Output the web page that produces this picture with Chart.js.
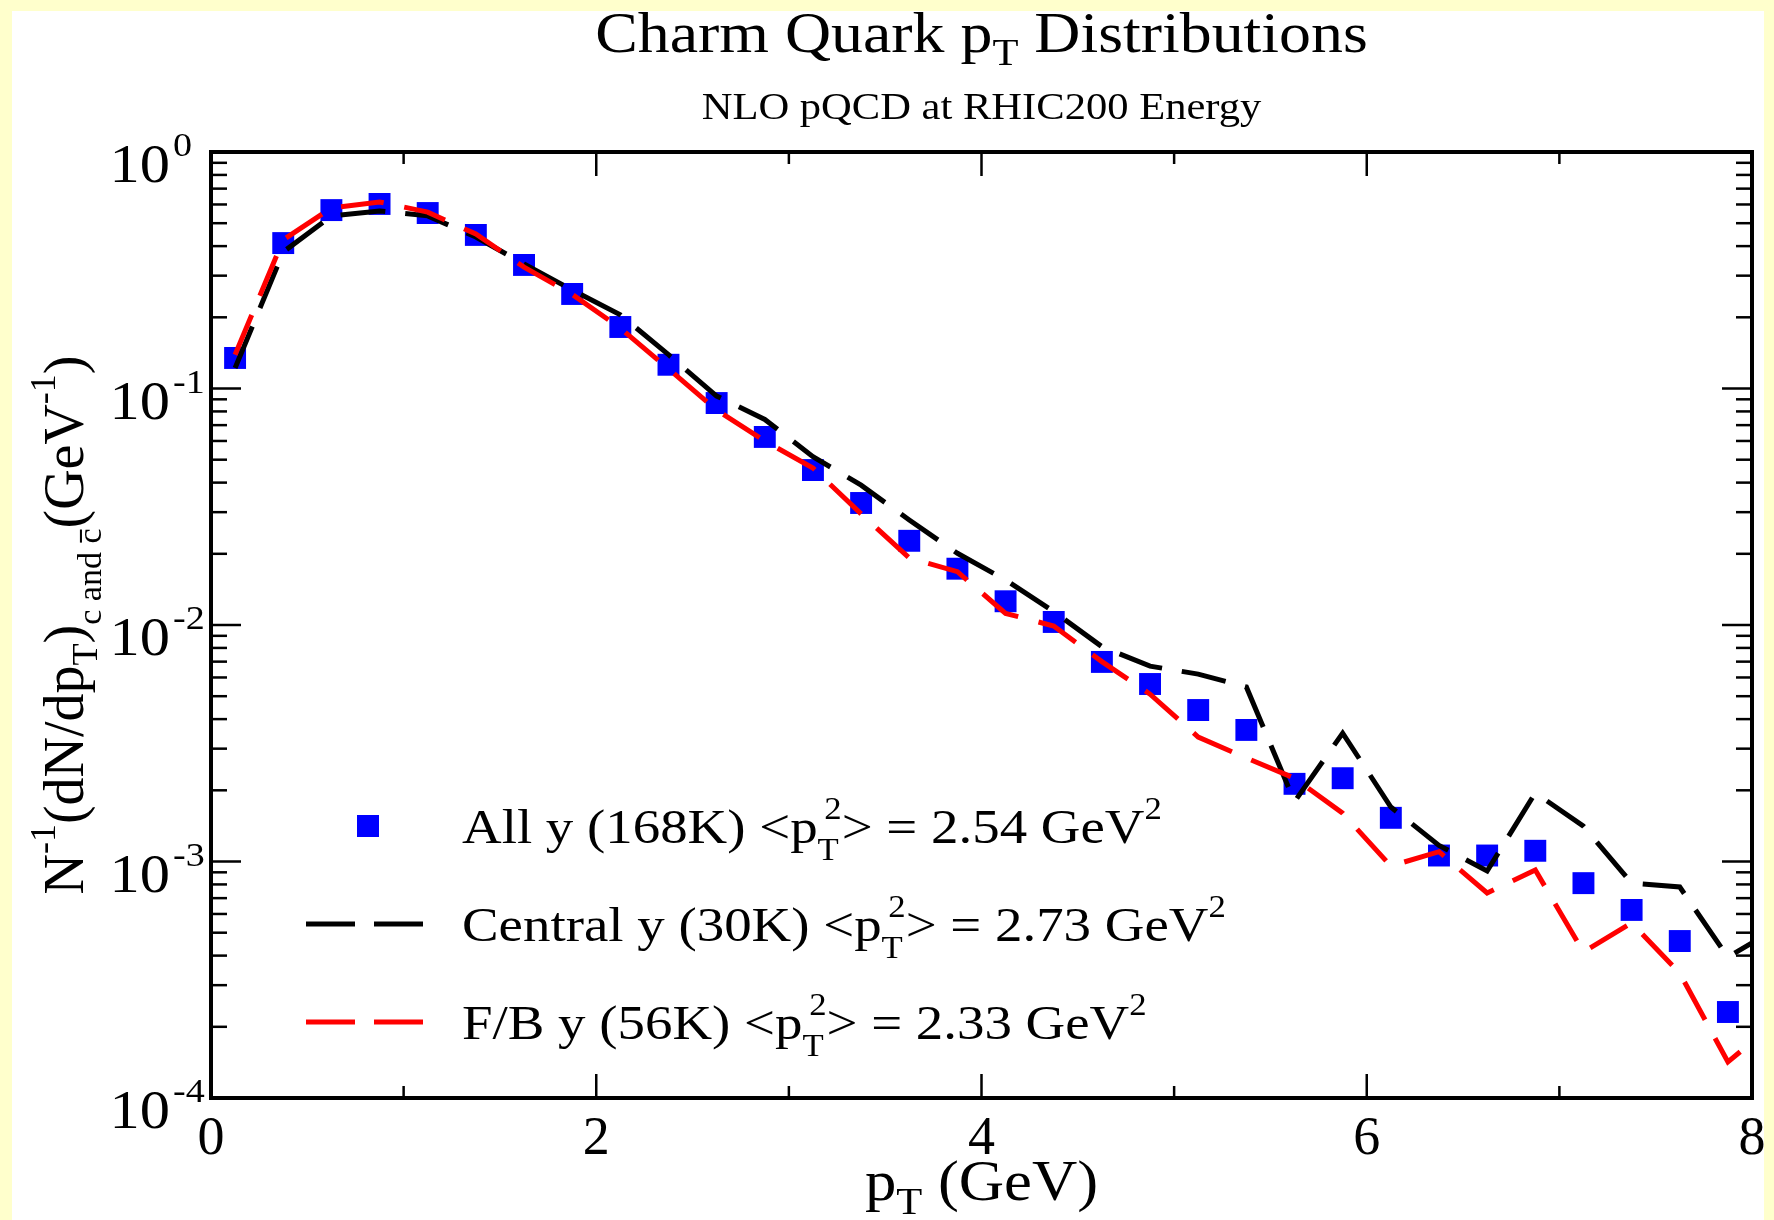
<!DOCTYPE html>
<html>
<head>
<meta charset="utf-8">
<title>Charm Quark pT Distributions</title>
<script src="https://cdn.jsdelivr.net/npm/chart.js@4.4.1/dist/chart.umd.min.js"></script>
<style>
  html, body { margin: 0; padding: 0; background: #FFFFCC; }
  #wrap { width: 1774px; height: 1220px; }
</style>
</head>
<body>
<div id="wrap"><canvas id="chart" width="1774" height="1220"></canvas></div>
<script>
// ============================================
// Charm quark pT spectra (NLO pQCD, RHIC 200)
// ============================================

// bin centres in GeV (last one sits just past the frame, lines run out to it)
const ptBins = [0.125, 0.375, 0.625, 0.875, 1.125, 1.375, 1.625, 1.875,
                2.125, 2.375, 2.625, 2.875, 3.125, 3.375, 3.625, 3.875,
                4.125, 4.375, 4.625, 4.875, 5.125, 5.375, 5.625, 5.875,
                6.125, 6.375, 6.625, 6.875, 7.125, 7.375, 7.625, 7.875, 8.125];

// All y (168K) - blue squares
const allY = [0.1346, 0.412, 0.568, 0.603, 0.552, 0.446, 0.333, 0.251,
              0.182, 0.126, 0.0868, 0.0624, 0.0452, 0.0328, 0.0227, 0.0173,
              0.0126, 0.0103, 0.00698, 0.00563, 0.00437, 0.00360, 0.00213, 0.00225,
              0.00153, 0.00106, 0.00106, 0.00111, 0.00081, 0.000624, 0.000461, 0.000231];

// Central y (30K) - black dashes
const centralY = [0.122, 0.378, 0.536, 0.563, 0.537, 0.437, 0.336, 0.261,
                  0.205, 0.139, 0.0929, 0.074, 0.0515, 0.039, 0.0278, 0.0201,
                  0.0155, 0.0114, 0.0081, 0.0067, 0.0062, 0.00547, 0.00179, 0.00349,
                  0.0017, 0.00117, 0.000912, 0.00195, 0.00141, 0.00081, 0.00078, 0.000394, 0.00052];

// F/B y (56K) - red dashes
const fbY = [0.139, 0.425, 0.58, 0.615, 0.557, 0.45, 0.326, 0.25,
             0.180, 0.121, 0.081, 0.060, 0.0461, 0.0295, 0.0192, 0.0168,
             0.0112, 0.0099, 0.0070, 0.0051, 0.00336, 0.00274, 0.00225, 0.0016,
             0.000957, 0.0011, 0.000736, 0.00092, 0.000414, 0.00055, 0.000337, 0.000142, 0.00021];

const xTickVals = [0, 1, 2, 3, 4, 5, 6, 7, 8];
const xLabelVals = [0, 2, 4, 6, 8];
const yDecadeVals = [1e-4, 1e-3, 1e-2, 1e-1, 1];
const yExpLabels = ['-4', '-3', '-2', '-1', '0'];
const yMinorMant = [2, 3, 4, 5, 6, 7, 8, 9];

const legendRows = [
  { name: 'All y (168K)', mean: '2.54' },
  { name: 'Central y (30K)', mean: '2.73' },
  { name: 'F/B y (56K)', mean: '2.33' }
];

const SERIF = '"Liberation Serif", "Times New Roman", serif';
const SX = 1.12;   // the figure is a little stretched sideways

const toXY = (ys) => ys.map((v, i) => ({ x: ptBins[i], y: v }));

// draws a sequence of text pieces (sub/superscripts) at one baseline
function runsWidth(ctx, runs) {
  let w = 0, start = 0, prev = 0;
  runs.forEach(r => {
    ctx.font = `${r.size}px ${SERIF}`;
    const m = ctx.measureText(r.text).width + (r.dx || 0);
    if (r.stack) { w = start + Math.max(prev, m); prev = Math.max(prev, m); }
    else { start = w; w += m; prev = m; }
  });
  return w;
}

function drawRuns(ctx, runs, x, y, align, sx, rot) {
  ctx.save();
  ctx.translate(x, y);
  if (rot) ctx.rotate(rot);
  ctx.scale(sx, 1);
  ctx.fillStyle = '#000';
  ctx.textBaseline = 'alphabetic';
  ctx.textAlign = 'left';
  const total = runsWidth(ctx, runs);
  let cx = align === 'center' ? -total / 2 : align === 'right' ? -total : 0;
  let start = cx, prev = 0;
  runs.forEach(r => {
    ctx.font = `${r.size}px ${SERIF}`;
    const m = ctx.measureText(r.text).width;
    const px = r.stack ? start + (r.dx || 0) : cx;
    ctx.fillText(r.text, px, r.dy || 0);
    if (r.bar) {
      // overline on the last glyph (anti-charm)
      const lw = ctx.measureText(r.bar).width;
      ctx.fillRect(px + m - lw + 1, (r.dy || 0) - r.size * 0.62, lw - 2, r.size * 0.06);
    }
    if (r.stack) { cx = start + Math.max(prev, m + (r.dx || 0)); prev = Math.max(prev, m); }
    else { start = cx; cx += m; prev = m; }
  });
  ctx.restore();
}

function line(ctx, x1, y1, x2, y2) {
  ctx.beginPath(); ctx.moveTo(x1, y1); ctx.lineTo(x2, y2); ctx.stroke();
}

const framePlugin = {
  id: 'framePlugin',
  beforeDraw(chart) {
    const ctx = chart.ctx;
    ctx.save();
    ctx.fillStyle = '#FFFFCC';
    ctx.fillRect(0, 0, chart.width, chart.height);
    ctx.fillStyle = '#FFFFFF';
    ctx.fillRect(12, 11, chart.width - 22, chart.height - 11);
    ctx.restore();
  },
  afterDraw(chart) {
    const { ctx, chartArea: a, scales: { x, y } } = chart;
    ctx.save();
    ctx.strokeStyle = '#000';
    ctx.lineCap = 'butt';

    // ticks on all four sides, pointing inwards
    ctx.lineWidth = 2.5;
    xTickVals.forEach(v => {
      const px = x.getPixelForValue(v);
      const len = xLabelVals.includes(v) ? 24 : 12;
      line(ctx, px, a.bottom, px, a.bottom - len);
      line(ctx, px, a.top, px, a.top + len);
    });
    yDecadeVals.forEach(d => {
      const py = y.getPixelForValue(d);
      line(ctx, a.left, py, a.left + 30, py);
      line(ctx, a.right, py, a.right - 30, py);
      if (d < 1) {
        yMinorMant.forEach(m => {
          const pm = y.getPixelForValue(m * d);
          line(ctx, a.left, pm, a.left + 16, pm);
          line(ctx, a.right, pm, a.right - 16, pm);
        });
      }
    });

    // frame
    ctx.lineWidth = 4;
    ctx.strokeRect(a.left, a.top, a.right - a.left, a.bottom - a.top);

    // y tick labels 10^n
    yDecadeVals.forEach((d, i) => {
      const py = y.getPixelForValue(d);
      drawRuns(ctx, [{ text: '10', size: 54 }], 170, py + 30, 'right', SX);
      drawRuns(ctx, [{ text: yExpLabels[i], size: 34 }], 173, py + 4, 'left', SX);
    });

    // x tick labels
    xLabelVals.forEach(v => {
      drawRuns(ctx, [{ text: String(v), size: 54 }], x.getPixelForValue(v), 1154, 'center', 1.0);
    });

    const cxPlot = (a.left + a.right) / 2;
    const cyPlot = (a.top + a.bottom) / 2;

    // titles
    drawRuns(ctx, [
      { text: 'Charm Quark p', size: 57 },
      { text: 'T', size: 38, dy: 13 },
      { text: ' Distributions', size: 57 }
    ], cxPlot, 52, 'center', SX);
    drawRuns(ctx, [{ text: 'NLO pQCD at RHIC200 Energy', size: 38 }], cxPlot, 119, 'center', SX);

    // axis titles
    drawRuns(ctx, [
      { text: 'p', size: 56 },
      { text: 'T', size: 38, dy: 14 },
      { text: ' (GeV)', size: 56 }
    ], cxPlot, 1200, 'center', SX);

    drawRuns(ctx, [
      { text: 'N', size: 56 },
      { text: '-1', size: 36, dy: -28 },
      { text: '(dN/dp', size: 56 },
      { text: 'T', size: 36, dy: 14 },
      { text: ')', size: 56 },
      { text: 'c and c', size: 34, dy: 18, bar: 'c' },
      { text: '(GeV', size: 56 },
      { text: '-1', size: 36, dy: -28 },
      { text: ')', size: 56 }
    ], 83, cyPlot, 'center', 1.0, -Math.PI / 2);

    // legend
    const rowY = [826, 924, 1022];
    ctx.fillStyle = '#0000FF';
    ctx.fillRect(357, rowY[0] - 11, 22, 22);
    ctx.lineWidth = 5;
    ctx.setLineDash([49, 19]);
    ctx.strokeStyle = '#000000';
    line(ctx, 306, rowY[1], 424, rowY[1]);
    ctx.strokeStyle = '#FF0000';
    line(ctx, 306, rowY[2], 424, rowY[2]);
    ctx.setLineDash([]);

    legendRows.forEach((r, i) => {
      drawRuns(ctx, [
        { text: r.name + ' <p', size: 49 },
        { text: 'T', size: 31, dy: 17 },
        { text: '2', size: 31, dy: -24, stack: true, dx: 6 },
        { text: '> = ' + r.mean + ' GeV', size: 49 },
        { text: '2', size: 31, dy: -24 }
      ], 462, rowY[i] + 17, 'left', SX);
    });

    ctx.restore();
  }
};

new Chart(document.getElementById('chart').getContext('2d'), {
  type: 'line',
  data: {
    datasets: [
      {
        label: 'F/B y (56K)',
        data: toXY(fbY),
        borderColor: '#FF0000',
        borderWidth: 5,
        borderDash: [43, 21],
        pointRadius: 0,
        tension: 0,
        fill: false,
        order: 0
      },
      {
        label: 'Central y (30K)',
        data: toXY(centralY),
        borderColor: '#000000',
        borderWidth: 5,
        borderDash: [45, 20],
        pointRadius: 0,
        tension: 0,
        fill: false,
        order: 1
      },
      {
        label: 'All y (168K)',
        data: toXY(allY),
        showLine: false,
        pointStyle: 'rect',
        pointRadius: 15.5,
        pointBorderWidth: 0,
        backgroundColor: '#0000FF',
        borderColor: '#0000FF',
        order: 2
      }
    ]
  },
  options: {
    responsive: false,
    animation: false,
    events: [],
    layout: { padding: { left: 211, right: 22, top: 152, bottom: 122 } },
    scales: {
      x: { type: 'linear', min: 0, max: 8, display: false },
      y: { type: 'logarithmic', min: 1e-4, max: 1, display: false }
    },
    plugins: {
      legend: { display: false },
      tooltip: { enabled: false }
    }
  },
  plugins: [framePlugin]
});
</script>
</body>
</html>
